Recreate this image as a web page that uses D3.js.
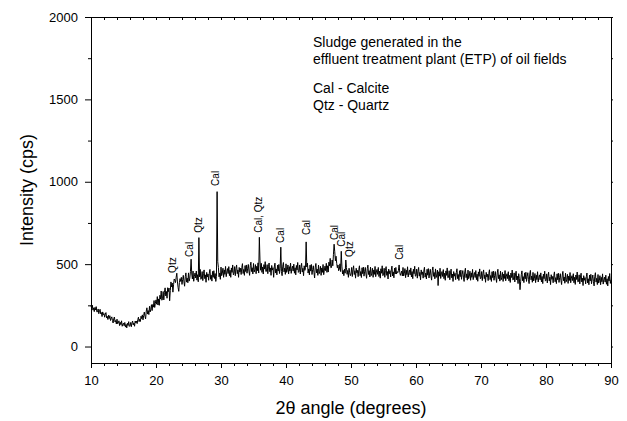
<!DOCTYPE html>
<html>
<head>
<meta charset="utf-8">
<script src="https://cdn.jsdelivr.net/npm/d3@7"></script>
<style>
  body { margin: 0; background: #fff; }
  svg text { font-family: Arial, "Liberation Sans", Helvetica, sans-serif; fill: #000; }
</style>
</head>
<body>
<div id="xrdChart"></div>
<script>
// scan grid: first 2theta and step (degrees)
const startAngle = 10;
const stepAngle = 0.1;

// intensity (cps), one row per degree from 10 to 89.9, then 90
const intensity = [
  249, 232, 251, 221, 235, 212, 237, 222, 242, 210,
  211, 228, 199, 217, 226, 198, 206, 182, 210, 193,
  200, 178, 197, 206, 174, 183, 164, 190, 170, 187,
  158, 170, 180, 158, 143, 170, 179, 149, 158, 137,
  166, 138, 144, 156, 127, 147, 133, 156, 123, 136,
  142, 126, 146, 118, 134, 113, 141, 128, 151, 122,
  126, 146, 120, 143, 155, 131, 143, 123, 155, 143,
  155, 139, 163, 178, 151, 166, 152, 184, 169, 192,
  162, 188, 209, 183, 168, 215, 235, 197, 218, 194,
  244, 210, 226, 254, 218, 255, 239, 279, 237, 262,
  283, 257, 303, 252, 289, 250, 311, 288, 337, 281,
  290, 334, 283, 329, 356, 307, 334, 293, 357, 333,
  355, 278, 340, 392, 362, 385, 330, 375, 410, 402,
  388, 420, 445, 392, 358, 335, 388, 412, 395, 420,
  377, 407, 432, 392, 366, 424, 447, 391, 415, 387,
  447, 397, 415, 455, 530, 440, 410, 458, 396, 425,
  446, 416, 458, 403, 436, 393, 661, 423, 468, 408,
  415, 455, 400, 442, 465, 412, 435, 390, 450, 422,
  440, 402, 445, 468, 408, 433, 397, 456, 420, 460,
  413, 443, 395, 426, 940, 515, 480, 423, 446, 408,
  482, 430, 445, 475, 420, 465, 438, 486, 424, 452,
  473, 443, 485, 430, 463, 420, 477, 450, 495, 435,
  445, 485, 430, 472, 495, 442, 465, 420, 480, 452,
  475, 437, 480, 503, 443, 468, 432, 491, 455, 495,
  445, 475, 498, 458, 432, 490, 512, 455, 478, 440,
  504, 452, 467, 497, 442, 487, 460, 508, 446, 663,
  520, 463, 505, 450, 483, 440, 497, 470, 515, 455,
  457, 497, 442, 484, 507, 454, 477, 432, 492, 464,
  478, 420, 483, 506, 446, 471, 435, 494, 458, 498,
  443, 473, 603, 456, 430, 488, 510, 453, 476, 438,
  502, 450, 465, 495, 440, 485, 458, 506, 444, 472,
  488, 458, 500, 445, 478, 435, 492, 465, 510, 450,
  455, 495, 440, 482, 505, 452, 475, 430, 490, 462,
  478, 635, 483, 506, 446, 471, 435, 494, 458, 498,
  437, 467, 490, 450, 416, 482, 504, 447, 470, 432,
  494, 442, 457, 487, 432, 477, 450, 498, 436, 464,
  488, 460, 505, 450, 490, 452, 512, 490, 535, 478,
  480, 525, 490, 560, 621, 575, 520, 548, 505, 478,
  495, 460, 470, 502, 455, 578, 488, 440, 462, 430,
  470, 445, 525, 480, 438, 462, 420, 475, 448, 430,
  440, 480, 425, 467, 490, 437, 460, 415, 475, 447,
  462, 424, 467, 490, 430, 455, 419, 478, 442, 482,
  427, 457, 480, 440, 414, 472, 494, 437, 460, 422,
  482, 430, 445, 475, 420, 465, 438, 486, 424, 452,
  468, 438, 480, 425, 458, 415, 472, 445, 490, 430,
  435, 475, 420, 462, 485, 432, 455, 410, 470, 442,
  460, 422, 465, 488, 428, 453, 417, 476, 440, 480,
  440, 455, 448, 462, 495, 450, 432, 445, 458, 428,
  480, 428, 443, 473, 418, 463, 436, 484, 422, 450,
  465, 435, 477, 422, 455, 412, 469, 442, 487, 427,
  430, 470, 415, 457, 480, 427, 450, 405, 465, 437,
  453, 415, 458, 481, 421, 446, 410, 469, 433, 473,
  416, 446, 469, 429, 403, 461, 483, 426, 449, 411,
  471, 419, 434, 464, 370, 454, 427, 475, 413, 441,
  455, 425, 467, 412, 445, 402, 459, 432, 477, 417,
  420, 460, 405, 447, 470, 417, 440, 395, 455, 427,
  444, 406, 449, 472, 412, 437, 401, 460, 424, 464,
  408, 438, 461, 421, 395, 453, 475, 418, 441, 403,
  464, 412, 427, 457, 402, 447, 420, 468, 406, 434,
  449, 419, 461, 406, 439, 396, 453, 426, 471, 411,
  415, 455, 400, 442, 465, 412, 435, 390, 450, 422,
  438, 400, 443, 466, 406, 431, 395, 454, 418, 458,
  402, 432, 455, 415, 389, 447, 469, 412, 435, 397,
  457, 405, 420, 450, 395, 440, 413, 461, 399, 427,
  442, 412, 454, 399, 432, 389, 446, 419, 464, 404,
  407, 447, 392, 434, 457, 404, 427, 382, 442, 414,
  345, 393, 436, 459, 399, 424, 388, 447, 411, 451,
  395, 425, 448, 408, 382, 440, 462, 405, 428, 390,
  450, 398, 413, 443, 388, 433, 406, 454, 392, 420,
  435, 405, 447, 392, 425, 382, 439, 412, 457, 397,
  401, 441, 386, 428, 451, 398, 421, 376, 436, 408,
  425, 387, 430, 453, 393, 418, 382, 441, 405, 445,
  389, 419, 442, 402, 376, 434, 456, 399, 422, 384,
  445, 393, 408, 438, 383, 428, 401, 449, 387, 415,
  430, 400, 442, 387, 420, 377, 434, 407, 452, 392,
  395, 435, 380, 422, 445, 392, 415, 370, 430, 402,
  418, 380, 423, 446, 386, 411, 375, 434, 398, 438,
  381, 411, 434, 394, 368, 426, 448, 391, 414, 376,
  437, 385, 400, 430, 375, 420, 393, 441, 379, 407,
  421, 391, 433, 378, 411, 368, 425, 398, 443, 383,
  405
];

// phase labels over the peaks
const peakNames = ["Qtz", "Cal", "Qtz", "Cal", "Cal, Qtz", "Cal", "Cal", "Cal", "Cal", "Qtz", "Cal"];
const peakAngles = [22.6, 25.1, 26.6, 29.1, 35.8, 39.2, 43.1, 47.4, 48.6, 49.7, 57.4];
const peakLabelLevels = [447, 544, 690, 975, 690, 629, 677, 647, 605, 544, 526];

const xTicks = [10, 20, 30, 40, 50, 60, 70, 80, 90];
const yTicks = [0, 500, 1000, 1500, 2000];

const notes = [
  "Sludge generated in the",
  "effluent treatment plant (ETP) of oil fields",
  "Cal - Calcite",
  "Qtz - Quartz"
];

const margin = { top: 17, right: 16, bottom: 58, left: 91 },
      width = 627 - margin.left - margin.right,
      height = 421 - margin.top - margin.bottom;

const svg = d3.select("#xrdChart")
    .append("svg")
    .attr("width", 627)
    .attr("height", 421);

const g = svg.append("g")
    .attr("transform", `translate(${margin.left},${margin.top})`);

const x = d3.scaleLinear()
    .domain([10, 90])
    .range([0, width]);

const y = d3.scaleLinear()
    .domain([-100, 2000])
    .range([height, 0]);

// axes, major + minor ticks, boxed frame
g.append("g")
    .attr("class", "axis")
    .attr("transform", `translate(0,${height})`)
    .call(d3.axisBottom(x).tickValues(xTicks).tickSize(5).tickSizeOuter(0).tickPadding(8));

g.append("g")
    .attr("class", "minor")
    .attr("transform", `translate(0,${height})`)
    .call(d3.axisBottom(x).tickValues(d3.range(10, 91, 2)).tickSize(3).tickFormat(""));

g.append("g")
    .attr("class", "axis")
    .call(d3.axisLeft(y).tickValues(yTicks).tickSize(6).tickSizeOuter(0).tickPadding(7).tickFormat(d3.format("d")));

g.append("g")
    .attr("class", "minor")
    .call(d3.axisLeft(y).tickValues([250, 750, 1250, 1750]).tickSize(3).tickFormat(""));

g.append("g")
    .attr("class", "axis")
    .call(d3.axisTop(x).tickValues(d3.range(10, 91, 2)).tickSize(-3).tickSizeOuter(0).tickFormat(""));

g.append("g")
    .attr("class", "axis")
    .attr("transform", `translate(${width},0)`)
    .call(d3.axisRight(y).tickValues(d3.range(0, 2001, 250)).tickSize(2).tickSizeOuter(0).tickFormat(""));

g.selectAll(".minor .domain").remove();
g.selectAll(".axis path, .axis line, .minor line")
    .attr("stroke", "#000")
    .attr("stroke-width", 1);
g.selectAll(".axis text")
    .attr("font-family", null)
    .style("font-size", "13px");

// diffraction pattern
const line = d3.line()
    .x((d, i) => x(startAngle + i * stepAngle))
    .y(d => y(d));

g.append("path")
    .datum(intensity)
    .attr("fill", "none")
    .attr("stroke", "#000")
    .attr("stroke-width", 1)
    .attr("d", line);

// peak labels
g.append("g")
    .selectAll("text")
    .data(peakNames)
    .enter().append("text")
    .attr("transform", (d, i) => `translate(${x(peakAngles[i]) + 3.5},${y(peakLabelLevels[i])}) rotate(-90)`)
    .style("font-size", "10px")
    .text(d => d);

// annotation
g.append("g")
    .selectAll("text")
    .data(notes)
    .enter().append("text")
    .attr("x", 313 - margin.left)
    .attr("y", (d, i) => 30 + i * 17 + (i > 1 ? 12 : 0))
    .style("font-size", "14px")
    .text(d => d);

// axis titles
svg.append("text")
    .attr("x", margin.left + width / 2)
    .attr("y", 414)
    .attr("text-anchor", "middle")
    .style("font-size", "18px")
    .text("2θ angle (degrees)");

svg.append("text")
    .attr("transform", `translate(33,${margin.top + y(950)}) rotate(-90)`)
    .attr("text-anchor", "middle")
    .style("font-size", "18px")
    .text("Intensity (cps)");
</script>
</body>
</html>
